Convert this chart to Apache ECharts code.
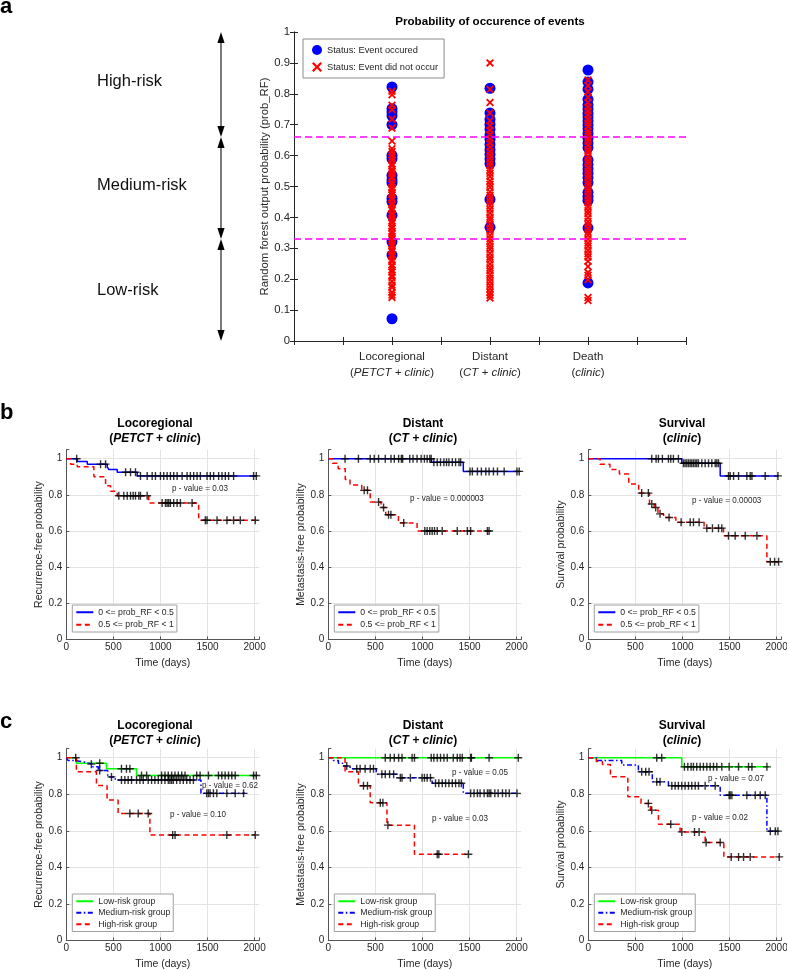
<!DOCTYPE html>
<html><head><meta charset="utf-8">
<script src="https://cdn.jsdelivr.net/npm/echarts@6/dist/echarts.min.js"></script>
<style>html,body{margin:0;padding:0;background:#fff}#c{width:787px;height:970px}</style>
</head><body><div id="c"></div>
<script>
// ---------------- Panel a data ----------------
const eventGroups = ['Locoregional', 'Distant', 'Death'];
const eventGroupModels = ['PETCT + clinic', 'CT + clinic', 'clinic'];
const riskBounds = [1, 0.66, 0.33, 0];
const riskLabels = ['High-risk', 'Medium-risk', 'Low-risk'];
const probTicksA = [0, 0.1, 0.2, 0.3, 0.4, 0.5, 0.6, 0.7, 0.8, 0.9, 1];

const locoEvent = [0.822, 0.752, 0.741, 0.729, 0.700, 0.601, 0.590, 0.536, 0.521, 0.512, 0.462, 0.451, 0.407, 0.321, 0.278, 0.072];
const locoNoEvent = [0.808, 0.797, 0.763, 0.749, 0.718, 0.689, 0.647, 0.622, 0.613, 0.603, 0.594, 0.585, 0.573, 0.567, 0.556, 0.549, 0.541, 0.532, 0.526, 0.514, 0.507, 0.497, 0.490, 0.481, 0.473, 0.463, 0.457, 0.446, 0.440, 0.430, 0.424, 0.413, 0.407, 0.398, 0.388, 0.382, 0.371, 0.365, 0.355, 0.348, 0.338, 0.332, 0.323, 0.313, 0.307, 0.296, 0.290, 0.280, 0.273, 0.263, 0.257, 0.246, 0.240, 0.230, 0.223, 0.213, 0.206, 0.193, 0.181, 0.173, 0.158, 0.149, 0.141];
const distEvent = [0.818, 0.738, 0.717, 0.701, 0.685, 0.667, 0.653, 0.636, 0.619, 0.604, 0.589, 0.574, 0.458, 0.368];
const distNoEvent = [0.900, 0.815, 0.772, 0.738, 0.713, 0.697, 0.682, 0.668, 0.654, 0.641, 0.627, 0.613, 0.602, 0.590, 0.578, 0.567, 0.553, 0.543, 0.532, 0.518, 0.507, 0.497, 0.483, 0.472, 0.461, 0.449, 0.438, 0.426, 0.414, 0.401, 0.392, 0.379, 0.366, 0.355, 0.342, 0.331, 0.320, 0.307, 0.297, 0.284, 0.272, 0.262, 0.249, 0.237, 0.227, 0.214, 0.203, 0.192, 0.180, 0.169, 0.158, 0.148, 0.139];
const deathEvent = [0.877, 0.838, 0.815, 0.782, 0.764, 0.751, 0.737, 0.725, 0.712, 0.699, 0.686, 0.671, 0.656, 0.641, 0.626, 0.586, 0.571, 0.557, 0.543, 0.528, 0.512, 0.481, 0.468, 0.455, 0.366, 0.188];
const deathNoEvent = [0.845, 0.826, 0.807, 0.789, 0.771, 0.757, 0.744, 0.732, 0.718, 0.706, 0.694, 0.680, 0.669, 0.656, 0.646, 0.633, 0.620, 0.610, 0.597, 0.585, 0.575, 0.562, 0.550, 0.539, 0.528, 0.515, 0.505, 0.492, 0.482, 0.469, 0.457, 0.447, 0.434, 0.422, 0.412, 0.399, 0.387, 0.377, 0.364, 0.352, 0.342, 0.330, 0.317, 0.307, 0.294, 0.282, 0.272, 0.258, 0.241, 0.222, 0.213, 0.198, 0.141, 0.131];

// ---------------- KM tick labels ----------------
const kmTimeTicks = [0, 500, 1000, 1500, 2000];
const kmProbTicks = [0, 0.2, 0.4, 0.6, 0.8, 1];

// ---------------- Panel b: two groups ----------------
const b1_low_t = [0, 117, 223, 435, 452, 541, 753, 2018];
const b1_low_s = [1, 0.985, 0.97, 0.955, 0.94, 0.925, 0.905, 0.905];
const b1_low_c = [110, 364, 417, 630, 682, 735, 788, 859, 912, 947, 1000, 1035, 1071, 1106, 1141, 1177, 1230, 1283, 1318, 1353, 1389, 1424, 1495, 1530, 1565, 1618, 1654, 1689, 1724, 1777, 1989, 2018];
const b1_high_t = [0, 46, 117, 293, 417, 470, 541, 876, 1406, 2007];
const b1_high_s = [1, 0.97, 0.955, 0.90, 0.85, 0.82, 0.795, 0.755, 0.66, 0.66];
const b1_high_c = [558, 611, 647, 682, 710, 735, 770, 788, 859, 1018, 1053, 1071, 1088, 1106, 1141, 1177, 1212, 1336, 1477, 1495, 1601, 1707, 1777, 1848, 2007];

const b2_low_t = [0, 1096, 1434, 2028];
const b2_low_s = [1, 0.98, 0.93, 0.93];
const b2_low_c = [178, 320, 445, 488, 534, 605, 666, 701, 747, 776, 790, 865, 900, 943, 986, 1021, 1050, 1078, 1093, 1121, 1157, 1192, 1228, 1256, 1281, 1317, 1352, 1388, 1406, 1505, 1530, 1584, 1626, 1673, 1708, 1754, 1797, 1868, 2004, 2028];
const b2_high_t = [0, 45, 105, 180, 230, 355, 445, 560, 610, 745, 943, 1708];
const b2_high_s = [1, 0.975, 0.945, 0.885, 0.855, 0.825, 0.76, 0.73, 0.69, 0.645, 0.60, 0.60];
const b2_high_c = [381, 416, 534, 587, 640, 665, 801, 1025, 1050, 1078, 1103, 1128, 1157, 1210, 1370, 1477, 1512, 1690, 1708];

const b3_low_t = [0, 993, 1401, 2021];
const b3_low_s = [1, 0.975, 0.905, 0.905];
const b3_low_c = [674, 720, 745, 787, 851, 876, 904, 957, 1011, 1028, 1046, 1064, 1082, 1099, 1117, 1135, 1152, 1170, 1206, 1241, 1277, 1312, 1348, 1365, 1383, 1489, 1507, 1543, 1596, 1684, 1720, 1738, 1879, 2014];
const b3_high_t = [0, 124, 230, 330, 430, 535, 650, 700, 740, 800, 930, 1230, 1436, 1897, 2021];
const b3_high_s = [1, 0.97, 0.94, 0.915, 0.86, 0.81, 0.75, 0.73, 0.695, 0.675, 0.648, 0.616, 0.574, 0.43, 0.43];
const b3_high_c = [567, 638, 674, 716, 762, 858, 986, 1082, 1117, 1177, 1259, 1319, 1383, 1418, 1489, 1560, 1667, 1791, 1933, 1979, 2021];

// ---------------- Panel c: three groups ----------------
const c1_low_t = [0, 107, 426, 746, 2018];
const c1_low_s = [1, 0.97, 0.94, 0.903, 0.903];
const c1_low_c = [100, 355, 586, 639, 675, 799, 853, 1012, 1048, 1083, 1119, 1154, 1190, 1226, 1261, 1385, 1421, 1510, 1616, 1652, 1687, 1723, 1758, 1794, 1989, 2018];
const c1_med_t = [0, 18, 95, 200, 280, 340, 440, 520, 1430, 1900];
const c1_med_s = [1, 0.985, 0.975, 0.965, 0.95, 0.93, 0.895, 0.878, 0.805, 0.805];
const c1_med_c = [266, 355, 480, 586, 622, 657, 693, 746, 782, 817, 870, 906, 941, 977, 1012, 1048, 1083, 1101, 1119, 1137, 1172, 1208, 1243, 1279, 1314, 1350, 1492, 1510, 1527, 1563, 1599, 1705, 1794, 1883];
const c1_high_t = [0, 107, 320, 433, 550, 888, 2007];
const c1_high_s = [1, 0.923, 0.848, 0.768, 0.695, 0.577, 0.577];
const c1_high_c = [675, 764, 870, 1130, 1155, 1705, 2007];

const c2_low_t = [0, 2028];
const c2_low_s = [1, 1];
const c2_low_c = [605, 658, 701, 747, 783, 890, 915, 1093, 1121, 1157, 1192, 1228, 1263, 1327, 1370, 1399, 1423, 1512, 1520, 1708, 2018];
const c2_med_t = [0, 53, 107, 153, 231, 509, 730, 1103, 1434, 2011];
const c2_med_s = [1, 0.985, 0.97, 0.955, 0.94, 0.91, 0.89, 0.86, 0.805, 0.805];
const c2_med_c = [196, 302, 338, 391, 445, 480, 569, 605, 651, 694, 765, 783, 872, 996, 1021, 1050, 1085, 1139, 1174, 1210, 1246, 1281, 1317, 1352, 1388, 1413, 1512, 1548, 1584, 1612, 1655, 1690, 1708, 1726, 1769, 1804, 1850, 1886, 1922, 2004];
const c2_high_t = [0, 178, 320, 445, 623, 915, 1490];
const c2_high_s = [1, 0.923, 0.847, 0.753, 0.631, 0.472, 0.472];
const c2_high_c = [374, 416, 552, 580, 633, 1157, 1174, 1488];

const c3_low_t = [0, 993, 1915];
const c3_low_s = [1, 0.95, 0.95];
const c3_low_c = [727, 780, 1021, 1057, 1092, 1117, 1152, 1188, 1223, 1259, 1294, 1330, 1365, 1418, 1496, 1596, 1702, 1738, 1897];
const c3_med_t = [0, 90, 355, 532, 680, 851, 1401, 1897, 2021];
const c3_med_s = [1, 0.985, 0.96, 0.923, 0.868, 0.847, 0.795, 0.598, 0.598];
const c3_med_c = [567, 610, 645, 727, 762, 887, 922, 957, 993, 1028, 1064, 1099, 1135, 1170, 1241, 1348, 1496, 1507, 1525, 1684, 1773, 1826, 1879, 1933, 1986, 2014];
const c3_high_t = [0, 85, 150, 235, 420, 560, 660, 745, 975, 1241, 1440, 2030];
const c3_high_s = [1, 0.98, 0.963, 0.896, 0.786, 0.75, 0.713, 0.636, 0.594, 0.536, 0.457, 0.457];
const c3_high_c = [638, 674, 876, 993, 1128, 1177, 1252, 1401, 1518, 1596, 1649, 1720, 2028];

// ---------------- build ----------------
const FF = '"Liberation Sans", Arial, Helvetica, sans-serif';
const INK = '#262626';
const PLUS = 'path://M3.3,0H4.7V3.3H8V4.7H4.7V8H3.3V4.7H0V3.3H3.3Z';
const XMARK = 'path://M0,1.6L1.6,0L5,3.4L8.4,0L10,1.6L6.6,5L10,8.4L8.4,10L5,6.6L1.6,10L0,8.4L3.4,5Z';

const NAME_B = ['0 <= prob_RF < 0.5', '0.5 <= prob_RF < 1'];
const NAME_C = ['Low-risk group', 'Medium-risk group', 'High-risk group'];
const ST = {
  solidBlue: {color: '#0000ff', width: 1.5, type: 'solid'},
  dashRed: {color: '#ff0000', width: 1.5, type: [5, 3.5]},
  green: {color: '#00ff00', width: 1.5, type: 'solid'},
  dashDotBlue: {color: '#0000ff', width: 1.5, type: [5, 2.5, 1.5, 2.5]}
};

const kmPanels = [
  {left: 66.3, top: 449.7, h: 189.8, ylab: 'Recurrence-free probability', curves: [
    [NAME_B[0], b1_low_t, b1_low_s, b1_low_c, ST.solidBlue], [NAME_B[1], b1_high_t, b1_high_s, b1_high_c, ST.dashRed]]},
  {left: 328.3, top: 449.7, h: 189.8, ylab: 'Metastasis-free probability', curves: [
    [NAME_B[0], b2_low_t, b2_low_s, b2_low_c, ST.solidBlue], [NAME_B[1], b2_high_t, b2_high_s, b2_high_c, ST.dashRed]]},
  {left: 588.3, top: 449.7, h: 189.8, ylab: 'Survival probability', curves: [
    [NAME_B[0], b3_low_t, b3_low_s, b3_low_c, ST.solidBlue], [NAME_B[1], b3_high_t, b3_high_s, b3_high_c, ST.dashRed]]},
  {left: 66.3, top: 748.6, h: 191.8, ylab: 'Recurrence-free probability', curves: [
    [NAME_C[0], c1_low_t, c1_low_s, c1_low_c, ST.green], [NAME_C[1], c1_med_t, c1_med_s, c1_med_c, ST.dashDotBlue], [NAME_C[2], c1_high_t, c1_high_s, c1_high_c, ST.dashRed]]},
  {left: 328.3, top: 748.6, h: 191.8, ylab: 'Metastasis-free probability', curves: [
    [NAME_C[0], c2_low_t, c2_low_s, c2_low_c, ST.green], [NAME_C[1], c2_med_t, c2_med_s, c2_med_c, ST.dashDotBlue], [NAME_C[2], c2_high_t, c2_high_s, c2_high_c, ST.dashRed]]},
  {left: 588.3, top: 748.6, h: 191.8, ylab: 'Survival probability', curves: [
    [NAME_C[0], c3_low_t, c3_low_s, c3_low_c, ST.green], [NAME_C[1], c3_med_t, c3_med_s, c3_med_c, ST.dashDotBlue], [NAME_C[2], c3_high_t, c3_high_s, c3_high_c, ST.dashRed]]}
];

function stepPts(t, s) { return t.map((x, i) => [x, s[i]]); }
function censorPts(t, s, c) {
  return c.map(ct => { let v = s[0]; for (let i = 0; i < t.length; i++) { if (t[i] <= ct) v = s[i]; } return [ct, v]; });
}

const grids = [
  {left: 294, top: 32, width: 392, height: 309},
  {left: 206, top: 32, width: 30, height: 309}
];
const xAxes = [
  {gridIndex: 0, type: 'value', min: 0, max: 4, interval: 0.5,
   axisLine: {show: true, lineStyle: {color: INK, width: 1}},
   axisTick: {show: true, inside: true, length: 4, lineStyle: {color: INK}},
   splitLine: {show: false},
   axisLabel: {margin: 8, fontSize: 11.5, fontFamily: FF, color: INK, lineHeight: 16,
     formatter: v => { const i = Math.round(v) - 1; return (Math.abs(v - Math.round(v)) < 1e-9 && i >= 0 && i < eventGroups.length) ? eventGroups[i] + '\n({i|' + eventGroupModels[i] + '})' : ''; },
     rich: {i: {fontStyle: 'italic', fontSize: 11.5, fontFamily: FF, color: INK, lineHeight: 16}}}},
  {gridIndex: 0, type: 'value', position: 'top', min: 0, max: 4, interval: 0.5,
   axisLine: {show: true, lineStyle: {color: INK, width: 1}},
   axisTick: {show: true, inside: true, length: 4, lineStyle: {color: INK}},
   splitLine: {show: false}, axisLabel: {show: false}},
  {gridIndex: 1, type: 'value', min: 0, max: 1, show: false}
];
const yAxes = [
  {gridIndex: 0, type: 'value', min: 0, max: 1, interval: 0.1,
   name: 'Random forest output probability (prob_RF)', nameLocation: 'middle', nameGap: 20,
   nameTextStyle: {fontSize: 11.3, fontFamily: FF, color: INK},
   axisLine: {show: true, lineStyle: {color: INK, width: 1}},
   axisTick: {show: true, inside: true, length: 4, lineStyle: {color: INK}},
   splitLine: {show: false},
   axisLabel: {margin: 4, fontSize: 11.3, fontFamily: FF, color: INK,
     formatter: v => { const r = Math.round(v * 10) / 10; return probTicksA.includes(r) ? String(r) : ''; }}},
  {gridIndex: 0, type: 'value', position: 'right', min: 0, max: 1, interval: 0.1,
   axisLine: {show: true, lineStyle: {color: INK, width: 1}},
   axisTick: {show: true, inside: true, length: 4, lineStyle: {color: INK}},
   splitLine: {show: false}, axisLabel: {show: false}},
  {gridIndex: 1, type: 'value', min: 0, max: 1, show: false}
];

const series = [];
const blueData = [], redData = [];
[locoEvent, distEvent, deathEvent].forEach((arr, k) => arr.forEach(v => blueData.push([k + 1, v])));
[locoNoEvent, distNoEvent, deathNoEvent].forEach((arr, k) => arr.forEach(v => redData.push([k + 1, v])));
series.push({type: 'scatter', name: 'Status: Event occured', xAxisIndex: 0, yAxisIndex: 0, data: blueData,
  symbol: 'circle', symbolSize: 11, itemStyle: {color: '#0000ff', opacity: 1}, z: 2, silent: true});
series.push({type: 'scatter', name: 'Status: Event did not occur', xAxisIndex: 0, yAxisIndex: 0, data: redData,
  symbol: XMARK, symbolSize: 8, itemStyle: {color: '#ff0000', opacity: 1}, z: 3, silent: true,
  markLine: {silent: true, symbol: ['none', 'none'], label: {show: false}, animation: false,
    lineStyle: {color: '#ff00ff', type: [7, 4], width: 1.5},
    data: riskBounds.slice(1, 3).map(v => ({yAxis: v}))}});

// risk arrows
const arrowData = riskLabels.map((l, i) => [riskBounds[i], riskBounds[i + 1]]);
series.push({type: 'custom', xAxisIndex: 2, yAxisIndex: 2, data: arrowData, silent: true, clip: false,
  encode: {x: -1, y: [0, 1]},
  renderItem: (params, api) => {
    const p1 = api.coord([0.5, api.value(0)]), p2 = api.coord([0.5, api.value(1)]);
    const x = p1[0], hw = 3.6, hh = 11;
    return {type: 'group', children: [
      {type: 'line', shape: {x1: x, y1: p1[1] + 4, x2: x, y2: p2[1] - 4}, style: {stroke: '#222', lineWidth: 1.2}},
      {type: 'polygon', shape: {points: [[x, p1[1]], [x - hw, p1[1] + hh], [x + hw, p1[1] + hh]]}, style: {fill: '#000'}},
      {type: 'polygon', shape: {points: [[x, p2[1]], [x - hw, p2[1] - hh], [x + hw, p2[1] - hh]]}, style: {fill: '#000'}}
    ]};
  }});

kmPanels.forEach((p, k) => {
  const gi = grids.length;
  const ai = xAxes.length;
  grids.push({left: p.left, top: p.top, width: 193, height: p.h});
  xAxes.push({gridIndex: gi, type: 'value', min: 0, max: 2050, interval: 500,
    name: 'Time (days)', nameLocation: 'middle', nameGap: 18,
    nameTextStyle: {fontSize: 10.5, fontFamily: FF, color: INK},
    axisLine: {show: true, lineStyle: {color: '#555', width: 1}},
    axisTick: {show: true, inside: true, length: 3, lineStyle: {color: '#555'}},
    splitLine: {show: true, showMaxLine: false, lineStyle: {color: '#e3e3e3', width: 1}},
    axisLabel: {margin: 3, fontSize: 10, fontFamily: FF, color: INK,
      formatter: v => kmTimeTicks.includes(v) ? String(v) : ''}});
  yAxes.push({gridIndex: gi, type: 'value', min: 0, max: 1.05, interval: 0.2,
    name: p.ylab, nameLocation: 'middle', nameGap: 21,
    nameTextStyle: {fontSize: 10.5, fontFamily: FF, color: INK},
    axisLine: {show: true, lineStyle: {color: '#555', width: 1}},
    axisTick: {show: true, inside: true, length: 3, lineStyle: {color: '#555'}},
    splitLine: {show: true, showMaxLine: false, lineStyle: {color: '#e3e3e3', width: 1}},
    axisLabel: {margin: 4, fontSize: 10, fontFamily: FF, color: INK,
      formatter: v => { const r = Math.round(v * 5) / 5; return (Math.abs(v - r) < 1e-6 && kmProbTicks.some(q => Math.abs(q - r) < 1e-6)) ? String(Math.round(r * 10) / 10) : ''; }}});
  p.curves.forEach((c, j) => {
    series.push({type: 'line', name: c[0], xAxisIndex: ai, yAxisIndex: ai, data: stepPts(c[1], c[2]),
      step: 'end', symbol: 'none', showSymbol: false, lineStyle: c[4], itemStyle: {color: c[4].color},
      z: 2 + j, silent: true});
  });
  p.curves.forEach(c => {
    series.push({type: 'scatter', xAxisIndex: ai, yAxisIndex: ai, data: censorPts(c[1], c[2], c[3]),
      symbol: PLUS, symbolSize: 8, itemStyle: {color: '#000'}, z: 6, silent: true});
  });
});
grids.forEach(g => { g.outerBoundsMode = 'none'; g.containLabel = false; });

const legends = [
  {left: 303, top: 39, orient: 'vertical', data: ['Status: Event occured', 'Status: Event did not occur'],
   itemWidth: 10, itemHeight: 10, itemGap: 7, padding: [6, 6, 6, 9], borderColor: '#8c8c8c', borderWidth: 1,
   backgroundColor: '#fff', textStyle: {fontSize: 9.3, fontFamily: FF, color: INK}, selectedMode: false}
];
kmPanels.forEach((p, k) => {
  const isB = k < 3;
  legends.push({left: p.left + 6, top: isB ? 605 : 894, orient: 'vertical', data: isB ? NAME_B : NAME_C,
    itemWidth: 17, itemHeight: 8, itemGap: isB ? 2 : 1, padding: [2, 3, 2, 3],
    itemStyle: {color: 'rgba(0,0,0,0)', opacity: 0, borderWidth: 0},
    borderColor: '#a0a0a0', borderWidth: 1, backgroundColor: '#fff', selectedMode: false,
    textStyle: {fontSize: 8.7, fontFamily: FF, color: INK, lineHeight: 10.5}});
});

function txt(x, y, text, size, opts) {
  opts = opts || {};
  return {type: 'text', x: x, y: y, scaleX: opts.sx || 1, silent: true, z: 100, style: Object.assign({
    text: text, fill: opts.fill || INK, fontSize: size, fontFamily: FF,
    fontWeight: opts.weight || 'normal', fontStyle: 'normal',
    align: opts.align || 'left', textAlign: opts.align || 'left',
    verticalAlign: opts.va || 'middle', textVerticalAlign: opts.va || 'middle'
  }, opts.extra || {})};
}
function kmTitle(x, y, main, sub) {
  const rich = {
    b: {fontWeight: 'bold', fontSize: 12, fontFamily: FF, fill: '#000', color: '#000', lineHeight: 15},
    bi: {fontWeight: 'bold', fontStyle: 'italic', fontSize: 12, fontFamily: FF, fill: '#000', color: '#000', lineHeight: 15}
  };
  return txt(x, y, '{b|' + main + '}\n{b|(}{bi|' + sub + '}{b|)}', 12, {align: 'center', va: 'top', extra: {rich: rich}});
}

const kmTitles = [
  ['Locoregional', 'PETCT + clinic'], ['Distant', 'CT + clinic'], ['Survival', 'clinic']
];
const titleX = [155, 423, 682];
const PV = {sx: 0.85};
const graphic = [
  txt(0, 7, 'a', 22, {weight: 'bold', fill: '#000'}),
  txt(0, 413, 'b', 22, {weight: 'bold', fill: '#000'}),
  txt(0, 722, 'c', 22, {weight: 'bold', fill: '#000'}),
  txt(490, 22, 'Probability of occurence of events', 11.6, {weight: 'bold', fill: '#000', align: 'center'}),
  txt(97, 81, riskLabels[0], 16.5, {fill: '#111'}),
  txt(97, 185, riskLabels[1], 16.5, {fill: '#111'}),
  txt(97, 290, riskLabels[2], 16.5, {fill: '#111'}),
  kmTitle(titleX[0], 416, kmTitles[0][0], kmTitles[0][1]),
  kmTitle(titleX[1], 416, kmTitles[1][0], kmTitles[1][1]),
  kmTitle(titleX[2], 416, kmTitles[2][0], kmTitles[2][1]),
  kmTitle(titleX[0], 718, kmTitles[0][0], kmTitles[0][1]),
  kmTitle(titleX[1], 718, kmTitles[1][0], kmTitles[1][1]),
  kmTitle(titleX[2], 718, kmTitles[2][0], kmTitles[2][1]),
  txt(172, 488, 'p - value = 0.03', 9.5, PV),
  txt(410, 498, 'p - value = 0.000003', 9.5, PV),
  txt(692, 500, 'p - value = 0.00003', 9.5, PV),
  txt(202, 785, 'p - value = 0.62', 9.5, PV),
  txt(170, 814, 'p - value = 0.10', 9.5, PV),
  txt(452, 772, 'p - value = 0.05', 9.5, PV),
  txt(432, 818, 'p - value = 0.03', 9.5, PV),
  txt(708, 778, 'p - value = 0.07', 9.5, PV),
  txt(692, 817, 'p - value = 0.02', 9.5, PV)
];

const chart = echarts.init(document.getElementById('c'), null, {renderer: 'canvas'});
chart.setOption({
  animation: false,
  backgroundColor: '#fff',
  textStyle: {fontFamily: FF},
  grid: grids, xAxis: xAxes, yAxis: yAxes, legend: legends, series: series, graphic: graphic,
  tooltip: {show: false}
});
</script></body></html>
